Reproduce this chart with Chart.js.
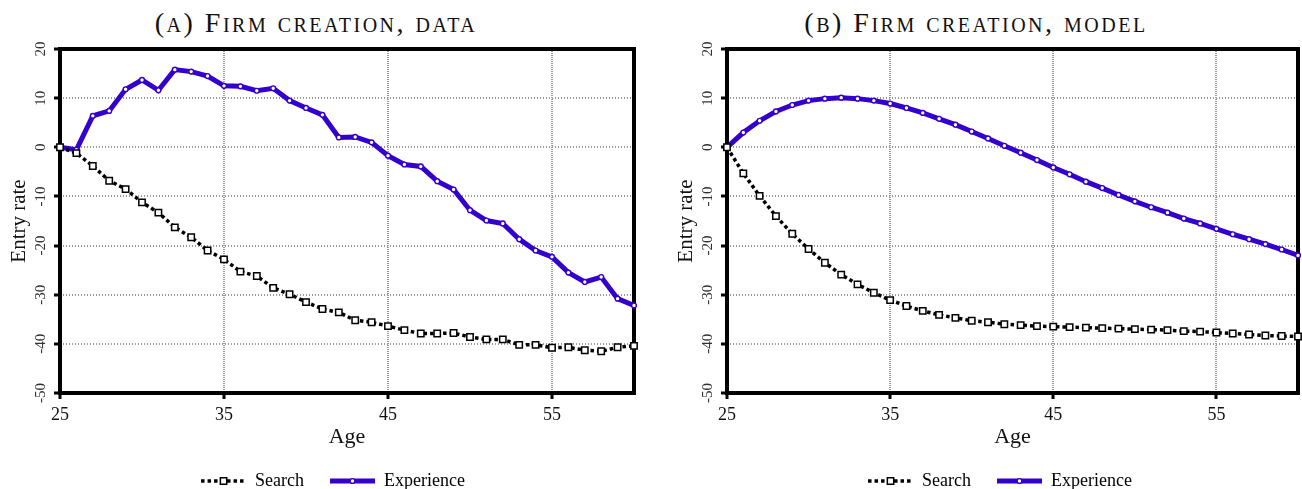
<!DOCTYPE html>
<html>
<head>
<meta charset="utf-8">
<script src="https://cdn.jsdelivr.net/npm/chart.js@4.4.1/dist/chart.umd.min.js"></script>
<style>
html, body { margin: 0; padding: 0; background: #fff; overflow: hidden; width: 1302px; height: 489px; }
.panel { position: absolute; top: 0; width: 666px; height: 500px; }
.panel canvas { position: absolute; left: 0; top: 0; }
.ttl { position: absolute; top: 8px; line-height: 30px; font-family: "Liberation Serif", serif; font-variant: small-caps;
       font-size: 28px; letter-spacing: 2.5px; color: #111; text-align: center; white-space: nowrap; }
</style>
</head>
<body>
<div class="panel" style="left:0">
  <div class="ttl" style="left:0;width:632px">(a) Firm creation, data</div>
  <canvas id="dataChart" width="666" height="500"></canvas>
</div>
<div class="panel" style="left:667px">
  <div class="ttl" style="left:0;width:618px">(b) Firm creation, model</div>
  <canvas id="modelChart" width="666" height="500"></canvas>
</div>
<script>
var ages = [25, 26, 27, 28, 29, 30, 31, 32, 33, 34, 35, 36, 37, 38, 39, 40, 41, 42,
            43, 44, 45, 46, 47, 48, 49, 50, 51, 52, 53, 54, 55, 56, 57, 58, 59, 60];
var xTicks = [25, 35, 45, 55];
var yTicks = [-50, -40, -30, -20, -10, 0, 10, 20];

// panel (a): data
var searchData = [0, -1.2, -3.8, -6.8, -8.5, -11.2, -13.3, -16.3, -18.3, -21.0, -22.8, -25.3,
                  -26.2, -28.6, -29.9, -31.5, -32.9, -33.6, -35.2, -35.6, -36.4, -37.2, -37.9, -37.9,
                  -37.8, -38.6, -39.1, -39.1, -40.2, -40.2, -40.8, -40.7, -41.3, -41.5, -40.7, -40.4];
var experienceData = [0, -0.5, 6.4, 7.4, 11.8, 13.7, 11.6, 15.8, 15.4, 14.5, 12.5, 12.4,
                      11.5, 12.0, 9.5, 8.0, 6.6, 2.0, 2.1, 1.0, -1.7, -3.5, -3.9, -6.9,
                      -8.6, -12.8, -14.9, -15.5, -18.7, -21.0, -22.3, -25.5, -27.4, -26.4, -30.8, -32.2];

// panel (b): model
var searchModel = [0, -5.3, -9.9, -14.0, -17.6, -20.7, -23.5, -25.9, -27.9, -29.6, -31.1, -32.3,
                   -33.3, -34.1, -34.7, -35.3, -35.6, -36.0, -36.2, -36.4, -36.5, -36.6, -36.7, -36.8,
                   -36.9, -37.0, -37.1, -37.2, -37.4, -37.5, -37.7, -37.9, -38.1, -38.3, -38.4, -38.5];
var experienceModel = [0, 3.0, 5.4, 7.3, 8.6, 9.5, 9.9, 10.1, 9.9, 9.5, 8.9, 8.0,
                       7.0, 5.8, 4.6, 3.2, 1.8, 0.3, -1.1, -2.6, -4.1, -5.5, -7.0, -8.3,
                       -9.7, -11.0, -12.2, -13.3, -14.5, -15.5, -16.6, -17.7, -18.7, -19.7, -20.8, -22.0];

var blue = '#3300cc';
var serif = '"Liberation Serif", "DejaVu Serif", serif';
Chart.defaults.font.family = serif;

function toPoints(vals) {
  return ages.map(function(a, i) { return {x: a, y: vals[i]}; });
}

// black box round the plot area
var frame = {
  id: 'frame',
  beforeDatasetsDraw: function(chart) {
    var ctx = chart.ctx, a = chart.chartArea;
    ctx.save();
    ctx.lineWidth = 4;
    ctx.strokeStyle = '#000';
    ctx.strokeRect(a.left, a.top, a.right - a.left, a.bottom - a.top);
    ctx.restore();
  }
};

// put the point marker in the middle of each legend line
var legendMarks = {
  id: 'legendMarks',
  afterDraw: function(chart) {
    var ctx = chart.ctx, lg = chart.legend;
    lg.legendHitBoxes.forEach(function(hb, i) {
      var ds = chart.data.datasets[i];
      var cx = hb.left + 45 / 2, cy = hb.top + 9;
      ctx.save();
      ctx.setLineDash([]);
      ctx.lineWidth = ds.pointBorderWidth;
      ctx.strokeStyle = ds.pointBorderColor;
      ctx.fillStyle = '#fff';
      ctx.beginPath();
      if (ds.pointStyle === 'rect') {
        var s = ds.pointRadius * Math.SQRT1_2;
        ctx.rect(cx - s, cy - s, 2 * s, 2 * s);
      } else {
        ctx.arc(cx, cy, ds.pointRadius, 0, Math.PI * 2);
      }
      ctx.fill();
      ctx.stroke();
      ctx.restore();
    });
  }
};

function makeChart(id, search, experience, rightGap) {
  return new Chart(document.getElementById(id), {
    type: 'line',
    data: {
      datasets: [{
        label: 'Search',
        data: toPoints(search),
        borderColor: '#000',
        borderWidth: 3.5,
        borderDash: [3.5, 3],
        pointStyle: 'rect',
        pointRadius: 4.5,
        pointBorderWidth: 1.5,
        pointBorderColor: '#000',
        pointBackgroundColor: '#fff',
        clip: false
      }, {
        label: 'Experience',
        data: toPoints(experience),
        borderColor: blue,
        borderWidth: 5,
        pointStyle: 'circle',
        pointRadius: 2.4,
        pointBorderWidth: 1.4,
        pointBorderColor: blue,
        pointBackgroundColor: '#fff',
        clip: false
      }]
    },
    options: {
      responsive: false,
      animation: false,
      layout: {padding: {top: 49, left: 0, right: 0, bottom: 0}},
      scales: {
        x: {
          type: 'linear',
          min: 25,
          max: 60,
          afterBuildTicks: function(s) { s.ticks = xTicks.map(function(v) { return {value: v}; }); },
          afterFit: function(s) { s.height = 53; },
          grid: {color: '#999', lineWidth: 2, tickColor: '#000', tickWidth: 3, tickLength: 6, tickBorderDash: []},
          border: {display: false, dash: [1, 1]},
          ticks: {font: {family: serif, size: 18}, color: '#111', padding: 5, maxRotation: 0, autoSkip: false},
          title: {display: true, text: 'Age', font: {family: serif, size: 22, lineHeight: 0.8}, color: '#111', padding: 0}
        },
        y: {
          min: -50,
          max: 20,
          afterBuildTicks: function(s) { s.ticks = yTicks.map(function(v) { return {value: v}; }); },
          afterFit: function(s) { s.width = 60; },
          grid: {color: '#999', lineWidth: 2, tickColor: '#000', tickWidth: 3, tickLength: 6, tickBorderDash: []},
          border: {display: false, dash: [1, 2]},
          ticks: {font: {family: serif, size: 15}, color: '#333', padding: 3, minRotation: 90, maxRotation: 90, crossAlign: 'center'},
          title: {display: true, text: 'Entry rate', font: {family: serif, size: 21, lineHeight: 1.2}, color: '#111', padding: {top: 7, bottom: 0}}
        },
        // empty box on the right so the legend stays centred on the whole canvas
        gap: {
          position: 'right',
          min: 0,
          max: 1,
          afterFit: function(s) { s.width = rightGap; },
          grid: {display: false},
          border: {display: false},
          ticks: {display: false}
        }
      },
      plugins: {
        tooltip: {enabled: false},
        legend: {
          position: 'bottom',
          labels: {
            usePointStyle: true,
            pointStyleWidth: 45,
            padding: 26,
            color: '#111',
            font: {family: serif, size: 18},
            generateLabels: function(chart) {
              return chart.data.datasets.map(function(d, i) {
                return {text: d.label, pointStyle: 'line', strokeStyle: d.borderColor, fillStyle: '#fff',
                        lineWidth: d.borderWidth, lineDash: d.borderDash || [], datasetIndex: i, hidden: false};
              });
            }
          }
        }
      }
    },
    plugins: [frame, legendMarks]
  });
}

var dataChart, modelChart;
function drawAll() {
  if (dataChart) return;
  dataChart = makeChart('dataChart', searchData, experienceData, 32);
  modelChart = makeChart('modelChart', searchModel, experienceModel, 35);
}
// make sure the serif face is ready before the canvas text is drawn
if (document.fonts && document.fonts.load) {
  document.fonts.load('18px "Liberation Serif"').then(drawAll, drawAll);
  setTimeout(drawAll, 300);
} else {
  drawAll();
}
</script>
</body>
</html>
